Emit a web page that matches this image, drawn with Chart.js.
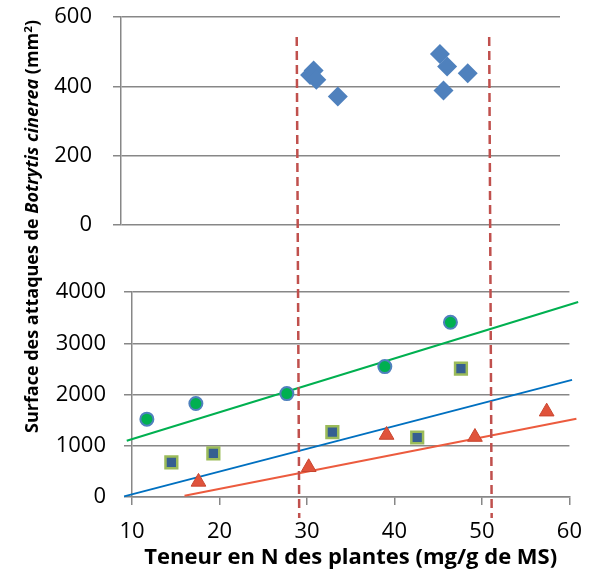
<!DOCTYPE html>
<html>
<head>
<meta charset="utf-8">
<script src="https://cdn.jsdelivr.net/npm/chart.js@4.4.1/dist/chart.umd.min.js"></script>
<style>
  html, body { margin: 0; padding: 0; background: #fff; }
  #wrap { position: relative; width: 596px; height: 577px; }
  #wrap canvas { position: absolute; left: 0; top: 0; }
</style>
</head>
<body>
<div id="wrap">
  <canvas id="topChart" width="596" height="577"></canvas>
  <canvas id="mainChart" width="596" height="577"></canvas>
</div>
<script>
// top panel (diamonds)
var topX = [30.5, 30.1, 30.8, 33.2, 44.6, 45.4, 45.0, 47.7];
var topY = [446, 433, 419, 371, 493, 457, 388, 438];
var topTicks = [0, 200, 400, 600];

// bottom panel
var circleX = [11.7, 17.3, 27.7, 38.9, 46.4];
var circleY = [1519, 1823, 2018, 2544, 3409];
var squareX = [14.5, 19.3, 32.9, 42.6, 47.6];
var squareY = [674, 849, 1266, 1161, 2505];
var triangleX = [17.6, 30.2, 39.1, 49.2, 57.4];
var triangleY = [295, 580, 1210, 1170, 1665];

// trend lines (end points)
var greenLineX = [9.4, 61.0];
var greenLineY = [1097, 3804];
var blueLineX = [9.1, 60.3];
var blueLineY = [12, 2285];
var redLineX = [16.0, 60.8];
var redLineY = [25, 1525];

// dashed limits
var limitX = [29, 51];

var bottomTicks = [0, 1000, 2000, 3000, 4000];
var xTicks = [10, 20, 30, 40, 50, 60];

var GRID = '#878787';
Chart.defaults.font.family = '"Open Sans", sans-serif';
Chart.defaults.color = '#000';

function pts(xs, ys) {
  return xs.map(function (x, i) { return { x: x, y: ys[i] }; });
}
function setTicks(list) {
  return function (s) { s.ticks = list.map(function (v) { return { value: v }; }); };
}
function plain(v) { return String(v); }

var yTitle = {
  id: 'yTitle',
  afterDraw: function (chart) {
    var ctx = chart.ctx;
    var parts = [
      { t: 'Surface des attaques de ', f: 'bold 17px "Open Sans"' },
      { t: 'Botrytis cinerea', f: 'italic bold 17px "Open Sans"' },
      { t: ' (mm', f: 'bold 17px "Open Sans"' },
      { t: '2', f: 'bold 11px "Open Sans"', sup: true },
      { t: ')', f: 'bold 17px "Open Sans"' }
    ];
    ctx.save();
    var total = 0;
    parts.forEach(function (p) { ctx.font = p.f; p.w = ctx.measureText(p.t).width; total += p.w; });
    ctx.translate(37.5, 226.5);
    ctx.rotate(-Math.PI / 2);
    ctx.scale(413 / total, 1);
    ctx.fillStyle = '#000';
    ctx.textBaseline = 'alphabetic';
    var x = -total / 2;
    parts.forEach(function (p) {
      ctx.font = p.f;
      ctx.fillText(p.t, x, p.sup ? -6 : 0);
      x += p.w;
    });
    ctx.restore();
  }
};

var limits = {
  id: 'limits',
  afterDatasetsDraw: function (chart) {
    var ctx = chart.ctx;
    var xs = chart.scales.x;
    ctx.save();
    ctx.strokeStyle = '#C0504D';
    ctx.lineWidth = 2.5;
    ctx.setLineDash([9, 5]);
    limitX.forEach(function (v) {
      var px = xs.getPixelForValue(v);
      ctx.beginPath();
      ctx.moveTo(px - 1.5, 37);
      ctx.lineTo(px + 1, 518);
      ctx.stroke();
    });
    ctx.restore();
  }
};

new Chart(document.getElementById('topChart'), {
  type: 'scatter',
  data: {
    datasets: [{
      data: pts(topX, topY),
      pointStyle: 'rectRot',
      pointRadius: 10,
      backgroundColor: '#4F81BD',
      borderColor: '#4F81BD',
      borderWidth: 0
    }]
  },
  options: {
    responsive: false,
    animation: false,
    layout: { padding: { top: 17, right: 36, bottom: 352, left: 0 } },
    plugins: { legend: { display: false }, tooltip: { enabled: false } },
    scales: {
      x: { type: 'linear', min: 9, max: 58, display: false },
      y: {
        min: 0, max: 600,
        afterBuildTicks: setTicks(topTicks),
        afterFit: function (s) { s.width = 121; s.paddingTop = 0; s.paddingBottom = 0; },
        ticks: { padding: 21, font: { size: 22 }, callback: plain },
        grid: { color: GRID, lineWidth: 1.5, tickLength: 8 },
        border: { color: GRID, width: 1.5 }
      }
    }
  }
});

new Chart(document.getElementById('mainChart'), {
  type: 'scatter',
  data: {
    datasets: [
      { data: pts(circleX, circleY), pointStyle: 'circle', pointRadius: 6.5, backgroundColor: '#00B050', borderColor: '#4F81BD', borderWidth: 2 },
      { data: pts(squareX, squareY), pointStyle: 'rect', pointRadius: 8.3, backgroundColor: '#365F91', borderColor: '#9BBB59', borderWidth: 2.5 },
      { data: pts(triangleX, triangleY), pointStyle: 'triangle', pointRadius: 8.5, backgroundColor: '#E0533B', borderColor: '#C9452F', borderWidth: 1 },
      { data: pts(greenLineX, greenLineY), showLine: true, pointRadius: 0, borderColor: '#00B050', borderWidth: 2, clip: false },
      { data: pts(blueLineX, blueLineY), showLine: true, pointRadius: 0, borderColor: '#0070C0', borderWidth: 2, clip: false },
      { data: pts(redLineX, redLineY), showLine: true, pointRadius: 0, borderColor: '#EC5B3E', borderWidth: 2, clip: false }
    ]
  },
  options: {
    responsive: false,
    animation: false,
    layout: { padding: { top: 292, right: 17, bottom: 0, left: 0 } },
    plugins: { legend: { display: false }, tooltip: { enabled: false } },
    scales: {
      x: {
        type: 'linear', min: 10, max: 60,
        afterBuildTicks: setTicks(xTicks),
        afterFit: function (s) { s.height = 80; },
        ticks: { padding: 14, font: { size: 22 }, callback: plain },
        grid: { drawOnChartArea: false, color: GRID, lineWidth: 1.5, tickLength: 8 },
        border: { color: GRID, width: 1.5 },
        title: {
          display: true,
          text: 'Teneur en N des plantes (mg/g de MS)',
          font: { size: 22, weight: 'bold' },
          padding: { top: 0, bottom: 6 }
        }
      },
      y: {
        min: 0, max: 4000,
        afterBuildTicks: setTicks(bottomTicks),
        afterFit: function (s) { s.width = 132; s.paddingTop = 0; s.paddingBottom = 0; },
        ticks: { padding: 18, font: { size: 22 }, callback: plain },
        grid: { color: GRID, lineWidth: 1.5, tickLength: 8 },
        border: { color: GRID, width: 1.5 }
      }
    }
  },
  plugins: [limits, yTitle]
});
</script>
</body>
</html>
